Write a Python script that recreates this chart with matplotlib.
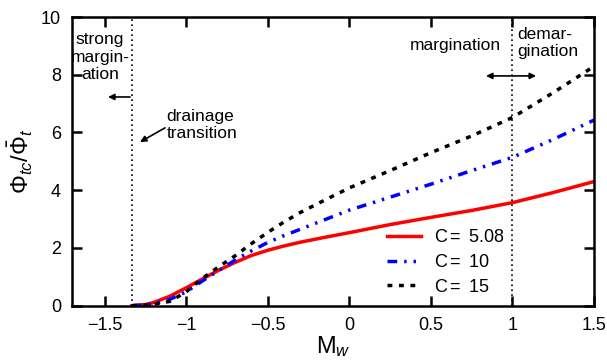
import matplotlib
matplotlib.use("Agg")
import matplotlib.pyplot as plt

plt.rcParams['font.family'] = ['Liberation Sans', 'DejaVu Sans']
plt.rcParams['mathtext.fontset'] = 'custom'
plt.rcParams['mathtext.rm'] = 'Liberation Sans'
plt.rcParams['mathtext.it'] = 'Liberation Sans:italic'

# values
mw = [-1.333, -1.25, -1.2, -1.1, -1.0, -0.9, -0.8, -0.7, -0.6, -0.5, -0.4,
      -0.3, -0.15, 0.0, 0.25, 0.5, 0.75, 1.0, 1.25, 1.5]
phi_c508 = [0.0, 0.04, 0.11, 0.33, 0.62, 0.93, 1.23, 1.50, 1.74, 1.92, 2.07,
            2.20, 2.37, 2.53, 2.81, 3.06, 3.30, 3.57, 3.92, 4.30]
phi_c10 = [0.0, 0.03, 0.07, 0.22, 0.48, 0.86, 1.22, 1.58, 1.90, 2.19, 2.43,
           2.65, 2.98, 3.31, 3.76, 4.21, 4.68, 5.14, 5.76, 6.43]
phi_c15 = [0.0, 0.02, 0.05, 0.15, 0.48, 0.95, 1.35, 1.73, 2.15, 2.54, 2.90,
           3.23, 3.66, 4.08, 4.68, 5.30, 5.88, 6.52, 7.38, 8.29]
labels = ["C$=$ 5.08", "C$=$ 10", "C$=$ 15"]
x_drain = -4.0 / 3.0
x_demarg = 1.0

fig = plt.figure(figsize=(6.07, 3.62), dpi=100)
ax = fig.add_axes([0.1186, 0.1555, 0.86, 0.7975])

ax.plot(mw, phi_c508, color='#ff0000', lw=2.5, ls='-', label=labels[0])
ax.plot(mw, phi_c10, color='#0000ff', lw=2.5,
        ls=(0, (2.8, 2.0, 0.7, 2.0, 0.7, 2.0)), label=labels[1])
ax.plot(mw, phi_c15, color='black', lw=2.5, ls=(0, (1.4, 1.9)), label=labels[2])

ax.axvline(x_drain, color='black', lw=1.2, ls=(0, (1, 2)))
ax.axvline(x_demarg, color='black', lw=1.2, ls=(0, (1, 2)))

ax.set_xlim(-1.7, 1.5)
ax.set_ylim(0, 10)
ax.set_xticks([-1.5, -1, -0.5, 0, 0.5, 1, 1.5])
ax.set_xticklabels(['\u22121.5', '\u22121', '\u22120.5', '0', '0.5', '1', '1.5'])
ax.set_yticks([0, 2, 4, 6, 8, 10])
ax.tick_params(direction='in', length=7.5, width=1.8, top=True, right=True,
               labelsize=13, pad=8)
for s in ax.spines.values():
    s.set_linewidth(1.8)

ax.set_xlabel(r'M$_w$', fontsize=17, labelpad=0)
ax.set_ylabel(r'$\Phi_{tc}/\bar{\Phi}_t$', fontsize=17, labelpad=4)

# annotations
arrow = dict(arrowstyle='-|>', color='black', lw=1.2, mutation_scale=9,
             shrinkA=0, shrinkB=0)
ax.text(-1.528, 8.61, "strong\nmargin-\nation", ha='center', va='center',
        fontsize=12.5, linespacing=1.22)
ax.annotate("", xy=(-1.479, 7.23), xytext=(-1.344, 7.23), arrowprops=arrow)
ax.text(-1.12, 6.26, "drainage\ntransition", ha='left', va='center',
        fontsize=12.5, linespacing=1.2)
ax.annotate("", xy=(-1.283, 5.67), xytext=(-1.13, 6.16), arrowprops=arrow)
ax.text(0.648, 9.0, "margination", ha='center', va='center', fontsize=12.5)
ax.text(1.03, 9.1, "demar-\ngination", ha='left', va='center', fontsize=12.5,
        linespacing=1.2)
ax.annotate("", xy=(0.838, 7.96), xytext=(1.0, 7.96), arrowprops=arrow)
ax.annotate("", xy=(1.145, 7.96), xytext=(1.0, 7.96), arrowprops=arrow)

ax.legend(loc='lower left', bbox_to_anchor=(0.603, 0.035), frameon=False,
          fontsize=13, handlelength=1.9, handletextpad=0.7,
          labelspacing=0.42, borderpad=0, borderaxespad=0)

fig.savefig("out.png", dpi=100)
